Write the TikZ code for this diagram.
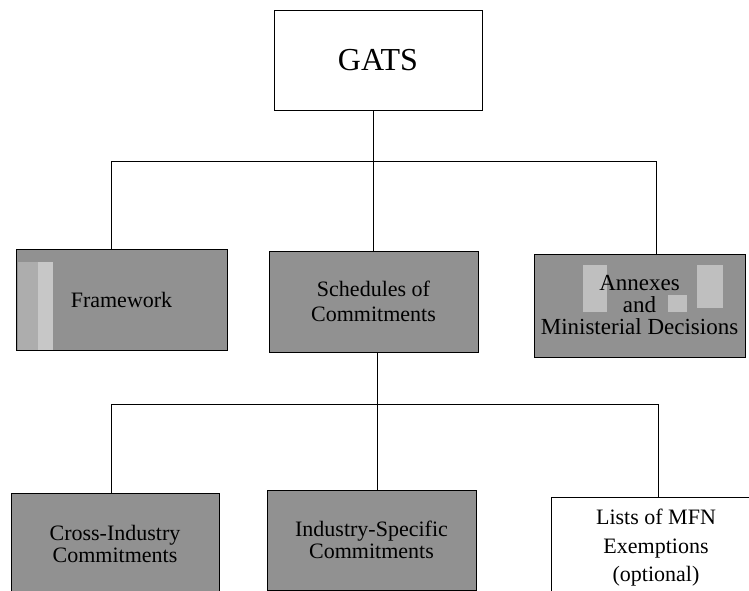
\documentclass[tikz,border=0pt]{standalone}
\usepackage{fontspec}
\setmainfont{Liberation Serif}
\usetikzlibrary{positioning,calc}
\newcommand{\boxfont}[2]{\fontsize{#1}{#2}\selectfont}

\begin{document}
\begin{tikzpicture}[x=1pt,y=-1pt,
  box/.style={draw,line width=1pt,rectangle,inner sep=0pt,align=center},
  shaded/.style={box,fill=black!43},
  link/.style={line width=0.8pt}]
  \clip (0,0) rectangle (749,591);
  % top
  \node[box,minimum width=208,minimum height=100,font=\boxfont{32}{36}] (gats) at (378,60.5) {GATS};
  % second row
  \node[shaded,minimum width=211,minimum height=101,font=\boxfont{22}{25},
    path picture={
      \fill[black!32] ([shift={(2,13)}]path picture bounding box.north west) rectangle ++(20,88);
      \fill[black!22] ([shift={(22,13)}]path picture bounding box.north west) rectangle ++(15,88);
    }] (fw) at (121.5,299.5) {Framework};
  \node[shaded,minimum width=209,minimum height=101,font=\boxfont{22}{25}] (sch) at (373.5,301.5) {Schedules of\\Commitments};
  \node[shaded,minimum width=211,minimum height=103,font=\boxfont{23}{22},
    path picture={
      \fill[black!25] ([shift={(49,11)}]path picture bounding box.north west) rectangle ++(24,47);
      \fill[black!25] ([shift={(134,41)}]path picture bounding box.north west) rectangle ++(19,17);
      \fill[black!25] ([shift={(163,11)}]path picture bounding box.north west) rectangle ++(26,43);
    }] (ann) at (639.5,305.5) {Annexes\\and\\Ministerial Decisions};
  % third row
  \node[shaded,minimum width=208,minimum height=101,font=\boxfont{22}{22}] (cross) at (115,543.5) {Cross-Industry\\Commitments};
  \node[shaded,minimum width=209,minimum height=100,font=\boxfont{22}{22}] (ind) at (371.5,540) {Industry-Specific\\Commitments};
  \node[box,minimum width=210,minimum height=102,font=\boxfont{22}{28.5}] (lists) at (656,548) {Lists of MFN\\Exemptions\\(optional)};
  % connectors
  \coordinate (bus1) at (373,161);
  \coordinate (bus2) at (377,404);
  \draw[link] (gats.south -| bus1) -- (bus1);
  \draw[link] ([xshift=-10.5pt]fw.north) |- (bus1);
  \draw[link] ([xshift=16.5pt]ann.north) |- (bus1);
  \draw[link] (sch.north -| bus1) -- (bus1);
  \draw[link] (sch.south -| bus2) -- (bus2);
  \draw[link] ([xshift=-4pt]cross.north) |- (bus2);
  \draw[link] ([xshift=2pt]lists.north) |- (bus2);
  \draw[link] (ind.north -| bus2) -- (bus2);
\end{tikzpicture}
\end{document}
